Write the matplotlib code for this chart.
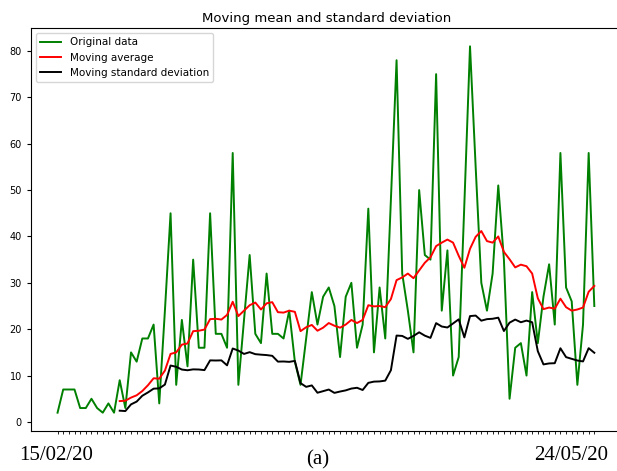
import numpy as np
import matplotlib.pyplot as plt

# daily values
original = [2, 7, 7, 7, 3, 3, 5, 3, 2, 4, 2, 9, 3, 15, 13, 18, 18, 21, 4, 24,
            45, 8, 22, 12, 35, 16, 16, 45, 19, 19, 16, 58, 8, 22, 36, 19, 17, 32, 19, 19,
            18, 24, 13, 8, 18, 28, 21, 27, 29, 25, 14, 27, 30, 16, 21, 46, 15, 29, 18, 48,
            78, 32, 24, 15, 50, 36, 35, 75, 24, 37, 10, 14, 47, 81, 55, 30, 24, 32, 51, 35,
            5, 16, 17, 10, 28, 17, 27, 34, 21, 58, 29, 26, 8, 21, 58, 25]

# 12-day window, starts at day 11
moving_avg = [4.50, 4.58, 5.25, 5.75, 6.67, 7.92, 9.42, 9.33, 11.08, 14.67,
              15.00, 16.67, 16.92, 19.58, 19.67, 19.92, 22.17, 22.25, 22.08, 23.08,
              25.92, 22.83, 24.00, 25.17, 25.75, 24.25, 25.58, 25.83, 23.67, 23.58,
              24.00, 23.75, 19.58, 20.42, 20.92, 19.67, 20.33, 21.33, 20.75, 20.33,
              21.00, 22.00, 21.33, 22.00, 25.17, 24.92, 25.00, 24.75, 26.50, 30.58,
              31.17, 32.00, 31.00, 32.67, 34.33, 35.50, 37.92, 38.67, 39.33, 38.67,
              35.83, 33.25, 37.33, 39.92, 41.17, 39.00, 38.67, 40.00, 36.67, 35.08,
              33.33, 33.92, 33.58, 32.00, 26.67, 24.33, 24.67, 24.42, 26.58, 24.75,
              24.00, 24.25, 24.67, 28.08, 29.33]

moving_std = [2.43, 2.35, 3.79, 4.39, 5.65, 6.37, 7.18, 7.24, 8.06, 12.17,
              11.90, 11.30, 11.15, 11.34, 11.31, 11.18, 13.28, 13.25, 13.28, 12.21,
              15.84, 15.39, 14.67, 15.05, 14.62, 14.51, 14.42, 14.26, 13.01, 13.04,
              12.96, 13.16, 8.37, 7.57, 7.88, 6.30, 6.64, 6.99, 6.27, 6.56,
              6.81, 7.20, 7.37, 6.89, 8.43, 8.70, 8.74, 8.91, 11.16, 18.63,
              18.55, 17.92, 18.55, 19.33, 18.61, 18.13, 21.31, 20.58, 20.37, 21.24,
              22.13, 18.23, 22.83, 22.94, 21.84, 22.17, 22.25, 22.49, 19.61, 21.41,
              22.08, 21.50, 21.86, 21.49, 15.26, 12.41, 12.62, 12.67, 15.89, 13.98,
              13.61, 13.25, 13.05, 15.91, 14.92]

first_date = "15/02/20"
last_date = "24/05/20"

days = np.arange(len(original))
start = len(original) - len(moving_avg)

fig = plt.figure(figsize=(6.17, 4.71), dpi=100)
# axes runs a little past the right edge, as in the cropped original
ax = fig.add_axes([31 / 617, 40 / 471, 591 / 617, 403 / 471])

ax.plot(days, original, color="g", lw=1.4, label="Original data")
ax.plot(days[start:], moving_avg, color="r", lw=1.4, label="Moving average")
ax.plot(days[start:], moving_std, color="k", lw=1.4, label="Moving standard deviation")
ax.set_xlim(-4.7, len(original) - 1 + 4.9)
ax.spines["right"].set_visible(False)

ax.set_title("Moving mean and standard deviation", fontsize=9.5, pad=4)
ax.set_xticks(days)
ax.set_xticklabels([])
ax.tick_params(axis="x", length=2.5, width=0.6)
ax.tick_params(axis="y", labelsize=7, length=3)
ax.legend(loc="upper left", fontsize=7.5)

# date labels and panel letter as set in the paper
fig.text(19 / 617, 1 - 456 / 471, first_date, family="Liberation Serif",
         fontsize=15, va="center", ha="left")
fig.text(608 / 617, 1 - 456 / 471, last_date, family="Liberation Serif",
         fontsize=15, va="center", ha="right")
fig.text(318 / 617, 1 - 460 / 471, "(a)", family="Liberation Serif",
         fontsize=15, va="center", ha="center")

fig.savefig("out.png", dpi=100)
